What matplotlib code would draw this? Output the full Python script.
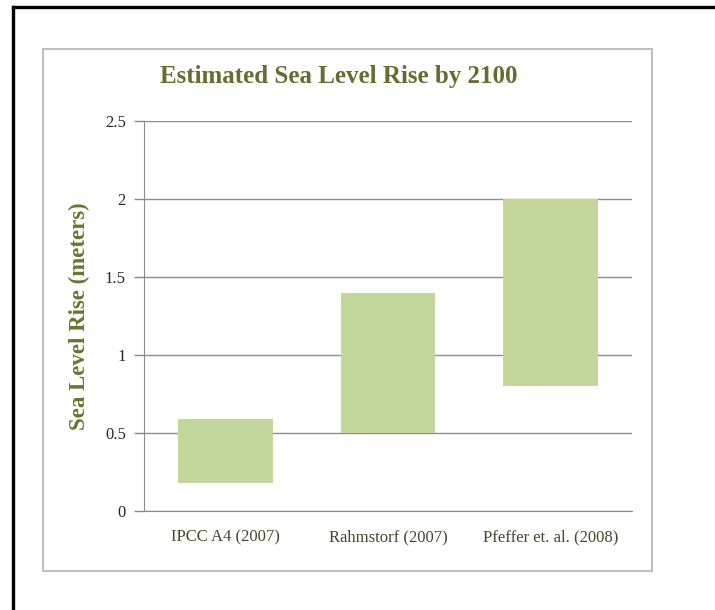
import matplotlib
matplotlib.use("Agg")
import matplotlib.pyplot as plt
from matplotlib.patches import Rectangle
from matplotlib.lines import Line2D

categories = ["IPCC A4 (2007)", "Rahmstorf (2007)", "Pfeffer et. al. (2008)"]
low_values = [0.18, 0.50, 0.80]
high_values = [0.59, 1.40, 2.00]
y_ticks = [0, 0.5, 1, 1.5, 2, 2.5]
y_tick_labels = ["0", "0.5", "1", "1.5", "2", "2.5"]

W, H = 715, 610
fig = plt.figure(figsize=(W / 100, H / 100), dpi=100)
fig.patch.set_facecolor("white")

# outer black frame (top & left)
fig.add_artist(Line2D([13 / W, 13 / W], [0, 1 - 7 / H], color="black", lw=2.4,
                      transform=fig.transFigure))
fig.add_artist(Line2D([13 / W, 1], [1 - 7 / H, 1 - 7 / H], color="black", lw=2.4,
                      transform=fig.transFigure))
# chart area gray border
fig.add_artist(Rectangle((43 / W, 1 - 571 / H), (652 - 43) / W, (571 - 49) / H,
                         transform=fig.transFigure, fill=False,
                         edgecolor="#bfbfbf", lw=1.5))

ax = fig.add_axes([144 / W, 1 - 511 / H, (632 - 144) / W, (511 - 121) / H])
x = list(range(len(categories)))
heights = [h - l for h, l in zip(high_values, low_values)]
ax.bar(x, heights, bottom=low_values, width=0.58, color="#c3d69b", zorder=3)

ax.set_xlim(-0.5, len(categories) - 0.5)
ax.set_ylim(0, 2.5)
ax.set_yticks(y_ticks)
ax.set_yticklabels(y_tick_labels, family="Liberation Serif", fontsize=12, color="#262626")
ax.set_xticks(x)
ax.set_xticklabels(categories, family="Liberation Serif", fontsize=12, color="#46462c")
ax.tick_params(axis="y", length=7, color="#868686", width=1, pad=6)
ax.tick_params(axis="x", length=0, pad=13)
ax.yaxis.grid(True, color="#8c8c8c", lw=1, zorder=0)
ax.set_axisbelow(True)
for s in ["top", "right"]:
    ax.spines[s].set_visible(False)
ax.spines["left"].set_color("#8c8c8c")
ax.spines["bottom"].set_color("#8c8c8c")

fig.text(339 / W, 1 - 77 / H, "Estimated Sea Level Rise by 2100", ha="center", va="center",
         family="Liberation Serif", fontweight="bold", fontsize=18, color="#6b6a32")
fig.text(79 / W, 1 - 316 / H, "Sea Level Rise (meters)", ha="center", va="center",
         rotation=90, family="Liberation Serif", fontweight="bold", fontsize=16.5,
         color="#687632")

fig.savefig("out.png", dpi=100, facecolor="white")
